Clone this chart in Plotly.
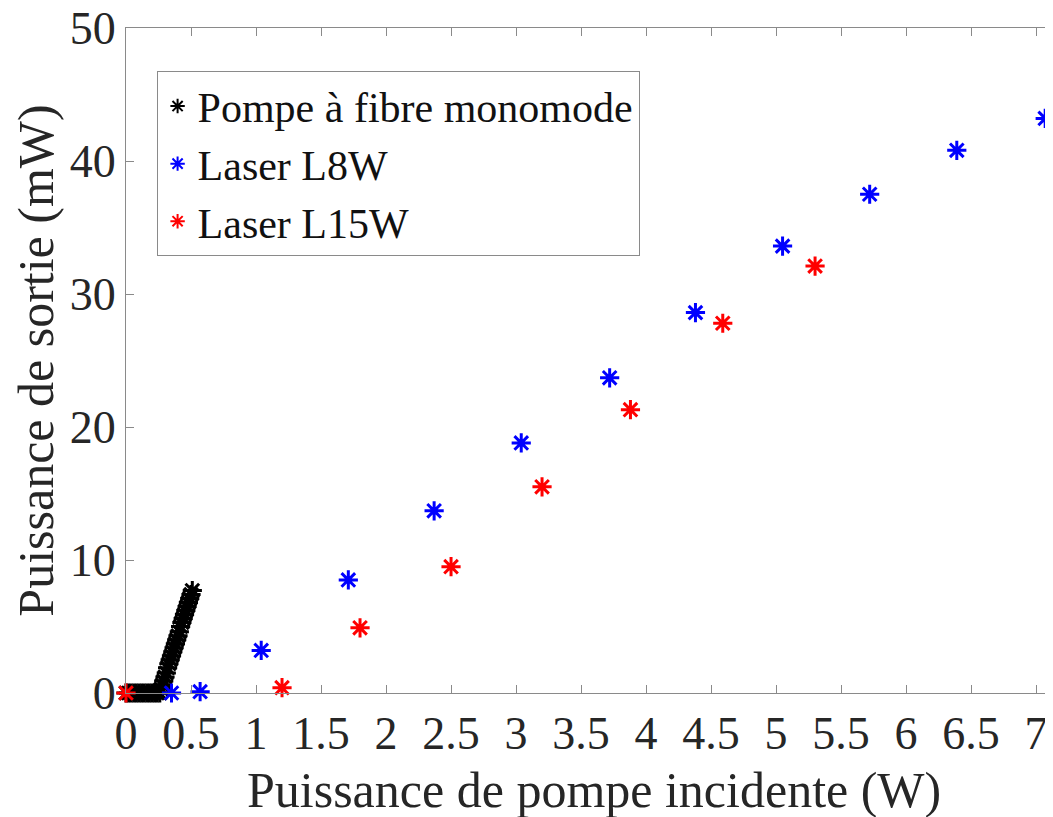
import plotly.graph_objects as go

# Black: pompe à fibre monomode
black_x = [0.00, 0.02, 0.04, 0.06, 0.08, 0.10, 0.12, 0.14, 0.16, 0.18, 0.20, 0.22, 0.24,
           0.26, 0.27, 0.28, 0.29, 0.30, 0.31, 0.32, 0.33, 0.34, 0.35, 0.36, 0.37, 0.38,
           0.39, 0.40, 0.41, 0.42, 0.43, 0.44, 0.45, 0.46, 0.47, 0.48, 0.49, 0.50, 0.51]
black_y = [0.0, 0.0, 0.0, 0.0, 0.0, 0.0, 0.0, 0.0, 0.0, 0.0, 0.0, 0.0, 0.0,
           0.0, 0.3, 0.6, 0.9, 1.2, 1.5, 1.9, 2.2, 2.5, 2.8, 3.1, 3.4, 3.7,
           4.0, 4.3, 4.6, 5.0, 5.3, 5.6, 5.9, 6.2, 6.5, 6.8, 7.1, 7.4, 7.7]

# Blue: Laser L8W
l8w_x = [0.35, 0.57, 1.04, 1.71, 2.37, 3.04, 3.72, 4.38, 5.05, 5.72, 6.39, 7.07]
l8w_y = [0.0, 0.1, 3.2, 8.5, 13.7, 18.8, 23.7, 28.6, 33.6, 37.5, 40.8, 43.2]

# Red: Laser L15W
l15w_x = [0.0, 1.20, 1.80, 2.50, 3.20, 3.88, 4.59, 5.30]
l15w_y = [0.0, 0.4, 4.9, 9.5, 15.5, 21.3, 27.8, 32.1]

x_ticks = [0, 0.5, 1, 1.5, 2, 2.5, 3, 3.5, 4, 4.5, 5, 5.5, 6, 6.5, 7]
x_ticklabels = ["0", "0.5", "1", "1.5", "2", "2.5", "3", "3.5", "4", "4.5", "5", "5.5", "6", "6.5", "7"]
y_ticks = [0, 10, 20, 30, 40, 50]

x_title = "Puissance de pompe incidente (W)"
y_title = "Puissance de sortie (mW)"

FONT = "Liberation Serif"

def mk(color):
    return dict(symbol="asterisk-open", size=16, color=color,
                line=dict(color=color, width=3))

fig = go.Figure()
fig.add_trace(go.Scatter(x=black_x, y=black_y, mode="markers", name="Pompe à fibre monomode",
                         marker=mk("black"), cliponaxis=False))
fig.add_trace(go.Scatter(x=l8w_x, y=l8w_y, mode="markers", name="Laser L8W",
                         marker=mk("#0000ff"), cliponaxis=False))
fig.add_trace(go.Scatter(x=l15w_x, y=l15w_y, mode="markers", name="Laser L15W",
                         marker=mk("#ff0000"), cliponaxis=False))

axis_common = dict(showgrid=False, zeroline=False, showline=True, linecolor="#8a8a8a",
                   linewidth=1, mirror="ticks", ticks="inside", ticklen=8,
                   tickcolor="#8a8a8a", tickwidth=1, automargin=False,
                   ticklabeloverflow="allow",
                   tickfont=dict(family=FONT, size=46, color="#262626"))

# the page body has an 8px margin, so the figure is sized/offset to fit the window
fig.update_layout(
    width=1045, height=809,
    margin=dict(l=118, r=0, t=20, b=124),
    paper_bgcolor="white", plot_bgcolor="white",
    font=dict(family=FONT, color="#262626"),
    xaxis=dict(range=[0, 7.13], tickvals=x_ticks, ticktext=x_ticklabels, **axis_common),
    yaxis=dict(range=[0, 50], tickvals=y_ticks,
               title=dict(text=y_title,
                          font=dict(family=FONT, size=50, color="#262626"), standoff=6),
               **axis_common),
    legend=dict(x=0.033, y=0.935, xanchor="left", yanchor="top",
                bgcolor="white", bordercolor="#8a8a8a", borderwidth=1,
                font=dict(family=FONT, size=42, color="#111"),
                tracegroupgap=0, itemsizing="constant"),
    showlegend=True,
)
fig.add_annotation(text=x_title, xref="paper", yref="paper", x=0.505, y=-0.146,
                   xanchor="center", yanchor="middle", showarrow=False,
                   font=dict(family=FONT, size=50, color="#262626"))

fig.write_html("out.html")
